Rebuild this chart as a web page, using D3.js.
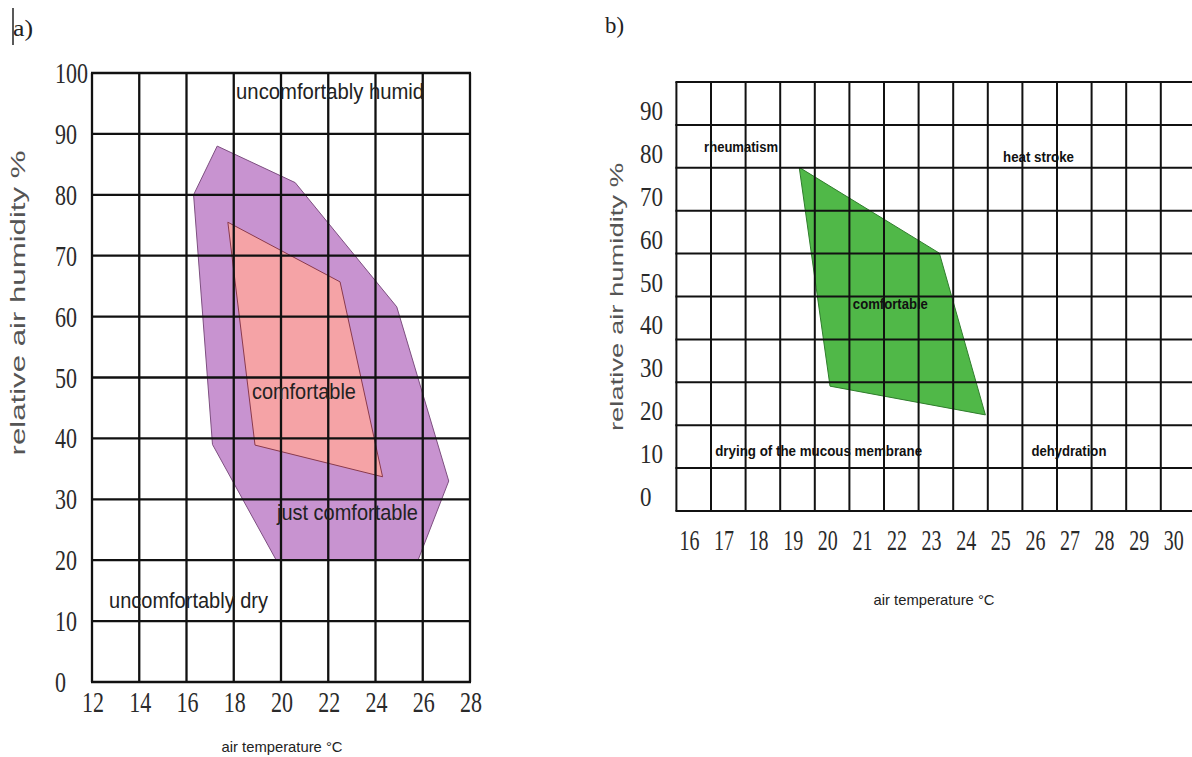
<!DOCTYPE html>
<html><head><meta charset="utf-8">
<script src="https://cdn.jsdelivr.net/npm/d3@7"></script>
<style>body{margin:0;background:#fff}svg{display:block}</style>
</head><body>
<svg id="chart" width="1192" height="757"></svg>
<script>
// ---------- Panel a data ----------
const aXTicks = [12, 14, 16, 18, 20, 22, 24, 26, 28];
const aYTicks = [0, 10, 20, 30, 40, 50, 60, 70, 80, 90, 100];
const aOuterTemp = [17.3, 20.6, 24.9, 27.1, 25.8, 19.8, 17.1, 16.3];
const aOuterHum  = [88.0, 82.0, 61.6, 33.0, 20.0, 20.0, 39.0, 80.0];
const aInnerTemp = [17.75, 22.5, 24.3, 18.9];
const aInnerHum  = [75.5, 65.7, 33.7, 38.9];
const aLabels    = ["uncomfortably humid", "comfortable", "just comfortable", "uncomfortably dry"];
const aLabelTemp = [18.1, 18.77, 19.83, 12.72];
const aLabelHum  = [95.7, 46.5, 26.6, 12.15];
const aLabelW    = [188, 104, 141, 159];

// ---------- Panel b data ----------
const bXTicks = [16, 17, 18, 19, 20, 21, 22, 23, 24, 25, 26, 27, 28, 29, 30];
const bYTicks = [0, 10, 20, 30, 40, 50, 60, 70, 80, 90];
const bXGrid  = [16, 17, 18, 19, 20, 21, 22, 23, 24, 25, 26, 27, 28, 29, 30, 31];
const bYGrid  = [0, 10, 20, 30, 40, 50, 60, 70, 80, 90, 100];
const bZoneTemp = [19.55, 23.6, 24.93, 20.44];
const bZoneHum  = [80.1, 60.1, 22.4, 29.1];
const bLabels    = ["rheumatism", "heat stroke", "comfortable", "drying of the mucous membrane", "dehydration"];
const bLabelTemp = [16.8, 25.44, 21.1, 17.12, 26.26];
const bLabelHum  = [83.7, 81.4, 47.1, 12.8, 12.8];
const bLabelW    = [74, 71, 75, 207, 75];

const svg = d3.select("#chart");
const serif = "'Liberation Serif','Times New Roman',serif";
const sans = "'Liberation Sans',Arial,sans-serif";

// ================= Panel a =================
const ax = d3.scaleLinear().domain([12, 28]).range([92, 470]);
const ay = d3.scaleLinear().domain([0, 100]).range([682, 73]);
const ga = svg.append("g");
const line = (sx, sy) => d3.line().x(d => sx(d[0])).y(d => sy(d[1]));

ga.append("path")
  .datum(d3.zip(aOuterTemp, aOuterHum))
  .attr("d", d => line(ax, ay)(d) + "Z")
  .attr("fill", "#c893d0").attr("stroke", "#7d4f80").attr("stroke-width", 1);
ga.append("path")
  .datum(d3.zip(aInnerTemp, aInnerHum))
  .attr("d", d => line(ax, ay)(d) + "Z")
  .attr("fill", "#f5a3a6").attr("stroke", "#8a3a4c").attr("stroke-width", 1);

ga.selectAll("line.vx").data(aXTicks).join("line")
  .attr("x1", d => ax(d)).attr("x2", d => ax(d))
  .attr("y1", ay(0)).attr("y2", ay(100))
  .attr("stroke", "#111").attr("stroke-width", 2.3);
ga.selectAll("line.hy").data(aYTicks).join("line")
  .attr("y1", d => ay(d)).attr("y2", d => ay(d))
  .attr("x1", ax(12) - 1).attr("x2", ax(28) + 1)
  .attr("stroke", "#111").attr("stroke-width", 2.3);

ga.selectAll("text.yt").data(aYTicks).join("text")
  .attr("x", 55).attr("y", d => ay(d) + 10)
  .attr("font-family", serif).attr("font-size", 30).attr("fill", "#2a2a2a")
  .attr("textLength", d => String(d).length * 11).attr("lengthAdjust", "spacingAndGlyphs")
  .text(d => d);
ga.selectAll("text.xt").data(aXTicks).join("text")
  .attr("x", d => ax(d) + 1).attr("y", 712)
  .attr("text-anchor", "middle")
  .attr("font-family", serif).attr("font-size", 30).attr("fill", "#2a2a2a")
  .attr("textLength", 22).attr("lengthAdjust", "spacingAndGlyphs")
  .text(d => d);

ga.selectAll("text.ann").data(aLabels).join("text")
  .attr("x", (d, i) => ax(aLabelTemp[i])).attr("y", (d, i) => ay(aLabelHum[i]))
  .attr("font-family", sans).attr("font-size", 22).attr("fill", "#222")
  .attr("textLength", (d, i) => aLabelW[i]).attr("lengthAdjust", "spacingAndGlyphs")
  .text(d => d);

ga.append("text")
  .attr("transform", "translate(25,303) rotate(-90)")
  .attr("text-anchor", "middle")
  .attr("font-family", sans).attr("font-size", 20).attr("fill", "#555")
  .attr("textLength", 305).attr("lengthAdjust", "spacingAndGlyphs")
  .text("relative air humidity %");
ga.append("text")
  .attr("x", 282).attr("y", 752).attr("text-anchor", "middle")
  .attr("font-family", sans).attr("font-size", 15).attr("fill", "#222")
  .attr("textLength", 121).attr("lengthAdjust", "spacingAndGlyphs")
  .text("air temperature  °C");
ga.append("text")
  .attr("x", 13).attr("y", 36)
  .attr("font-family", serif).attr("font-size", 24).attr("fill", "#222")
  .attr("textLength", 20).attr("lengthAdjust", "spacingAndGlyphs")
  .text("a)");
ga.append("line").attr("x1", 13).attr("x2", 13).attr("y1", 8).attr("y2", 45)
  .attr("stroke", "#222").attr("stroke-width", 1.5);

// ================= Panel b =================
const bx = d3.scaleLinear().domain([16, 31]).range([676.4, 1195.4]);
const by = d3.scaleLinear().domain([0, 100]).range([511, 82]);
const gb = svg.append("g");

gb.append("path")
  .datum(d3.zip(bZoneTemp, bZoneHum))
  .attr("d", d => line(bx, by)(d) + "Z")
  .attr("fill", "#50b848").attr("stroke", "#2f7d2c").attr("stroke-width", 1);

gb.selectAll("line.vx").data(bXGrid).join("line")
  .attr("x1", d => bx(d)).attr("x2", d => bx(d))
  .attr("y1", by(0)).attr("y2", by(100))
  .attr("stroke", "#111").attr("stroke-width", 2);
gb.selectAll("line.hy").data(bYGrid).join("line")
  .attr("y1", d => by(d)).attr("y2", d => by(d))
  .attr("x1", bx(16) - 1).attr("x2", 1200)
  .attr("stroke", "#111").attr("stroke-width", 2);

gb.selectAll("text.yt").data(bYTicks).join("text")
  .attr("x", 640).attr("y", d => by(d) - 5)
  .attr("font-family", serif).attr("font-size", 27).attr("fill", "#2a2a2a")
  .attr("textLength", d => String(d).length * 11.5).attr("lengthAdjust", "spacingAndGlyphs")
  .text(d => d);
gb.selectAll("text.xt").data(bXTicks).join("text")
  .attr("x", d => bx(d) + 13).attr("y", 550)
  .attr("text-anchor", "middle")
  .attr("font-family", serif).attr("font-size", 29).attr("fill", "#2a2a2a")
  .attr("textLength", 20).attr("lengthAdjust", "spacingAndGlyphs")
  .text(d => d);

gb.selectAll("text.ann").data(bLabels).join("text")
  .attr("x", (d, i) => bx(bLabelTemp[i])).attr("y", (d, i) => by(bLabelHum[i]))
  .attr("font-family", sans).attr("font-size", 14).attr("font-weight", "bold").attr("fill", "#111")
  .attr("textLength", (d, i) => bLabelW[i]).attr("lengthAdjust", "spacingAndGlyphs")
  .text(d => d);

gb.append("text")
  .attr("transform", "translate(623,297) rotate(-90)")
  .attr("text-anchor", "middle")
  .attr("font-family", sans).attr("font-size", 18).attr("fill", "#555")
  .attr("textLength", 268).attr("lengthAdjust", "spacingAndGlyphs")
  .text("relative air humidity %");
gb.append("text")
  .attr("x", 934).attr("y", 605).attr("text-anchor", "middle")
  .attr("font-family", sans).attr("font-size", 15).attr("fill", "#222")
  .attr("textLength", 121).attr("lengthAdjust", "spacingAndGlyphs")
  .text("air temperature  °C");
gb.append("text")
  .attr("x", 605).attr("y", 33)
  .attr("font-family", serif).attr("font-size", 24).attr("fill", "#222")
  .attr("textLength", 19).attr("lengthAdjust", "spacingAndGlyphs")
  .text("b)");
</script>
</body></html>
